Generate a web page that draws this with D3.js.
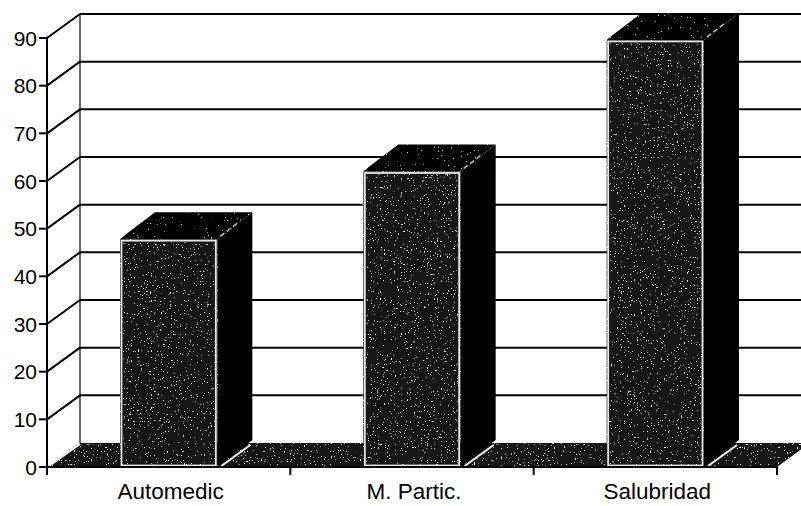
<!DOCTYPE html>
<html>
<head>
<meta charset="utf-8">
<script src="https://cdn.jsdelivr.net/npm/d3@7"></script>
<style>
  html, body { margin: 0; padding: 0; background: #fff; }
  svg { display: block; font-family: "Liberation Sans", Arial, sans-serif; }
</style>
</head>
<body>
<svg id="chart" width="801" height="506"></svg>
<script>
// values
const categories = ["Automedic", "M. Partic.", "Salubridad"];
const values = [47.8, 62, 89.6];
const yTicks = [0, 10, 20, 30, 40, 50, 60, 70, 80, 90];

const svg = d3.select("#chart");

// 3d offsets: walls / bars
const DX = 33, DY = -24;
const BDX = 35, BDY = -27;

const y = d3.scaleLinear().domain([0, 90]).range([467, 38]);
const x = d3.scaleBand().domain(categories).range([47, 777])
  .paddingInner(0.6).paddingOuter(0.3);
const step = x.step();

// speckle texture filter
const defs = svg.append("defs");
function speckle(id, seed, freq, k, b) {
  const f = defs.append("filter").attr("id", id)
    .attr("x", 0).attr("y", 0).attr("width", 1).attr("height", 1);
  f.append("feTurbulence").attr("type", "fractalNoise")
    .attr("baseFrequency", freq).attr("numOctaves", 2).attr("seed", seed).attr("result", "n");
  f.append("feColorMatrix").attr("in", "n").attr("type", "matrix")
    .attr("values", `0 0 0 0 1  0 0 0 0 1  0 0 0 0 1  ${k} 0 0 0 ${-b}`).attr("result", "dots");
  f.append("feComposite").attr("in", "dots").attr("in2", "SourceGraphic")
    .attr("operator", "in").attr("result", "d2");
  const m = f.append("feMerge");
  m.append("feMergeNode").attr("in", "SourceGraphic");
  m.append("feMergeNode").attr("in", "d2");
}
speckle("speck", 3, 0.7, 14, 9.7);
speckle("speckTop", 7, 0.7, 10, 7.4);

const line = d3.line();

// back wall gridlines
svg.append("g").selectAll("line")
  .data(yTicks.filter(d => d > 0))
  .join("line")
  .attr("x1", 47 + DX).attr("x2", 777 + DX + 10)
  .attr("y1", d => y(d) + DY).attr("y2", d => y(d) + DY)
  .attr("stroke", "#000").attr("stroke-width", 2);

// left wall diagonals
svg.append("g").selectAll("line")
  .data(yTicks.filter(d => d > 0))
  .join("line")
  .attr("x1", 47).attr("x2", 47 + DX)
  .attr("y1", d => y(d)).attr("y2", d => y(d) + DY)
  .attr("stroke", "#000").attr("stroke-width", 2);

// back wall corner line
svg.append("line")
  .attr("x1", 47 + DX).attr("x2", 47 + DX)
  .attr("y1", y(90) + DY).attr("y2", y(0) + DY)
  .attr("stroke", "#000").attr("stroke-width", 1.2);

// floor
svg.append("path")
  .attr("d", line([[47, y(0)], [777, y(0)], [777 + DX, y(0) + DY], [47 + DX, y(0) + DY]]) + "Z")
  .attr("fill", "#161616")
  .attr("filter", "url(#speck)");
svg.append("line")
  .attr("x1", 49).attr("x2", 47 + DX)
  .attr("y1", y(0) - 1).attr("y2", y(0) + DY + 1)
  .attr("stroke", "#f4f4f4").attr("stroke-width", 2);

// bars
const bars = svg.append("g").selectAll("g")
  .data(categories.map((c, i) => ({ cat: c, val: values[i] })))
  .join("g");

bars.append("path") // side
  .attr("d", d => {
    const x1 = x(d.cat) + x.bandwidth();
    return line([[x1, y(0)], [x1 + BDX, y(0) + BDY], [x1 + BDX, y(d.val) + BDY], [x1, y(d.val)]]) + "Z";
  })
  .attr("fill", "#000");

bars.append("path") // top
  .attr("d", d => {
    const x0 = x(d.cat), x1 = x0 + x.bandwidth(), t = y(d.val);
    return line([[x0, t], [x0 + 6, t - 5], [x0 + BDX, t + BDY], [x1 + BDX, t + BDY], [x1, t]]) + "Z";
  })
  .attr("fill", "#050505")
  .attr("filter", "url(#speckTop)");

bars.append("line") // top-right highlight edge
  .attr("x1", d => x(d.cat) + x.bandwidth() + 3)
  .attr("y1", d => y(d.val) - 3)
  .attr("x2", d => x(d.cat) + x.bandwidth() + 20)
  .attr("y2", d => y(d.val) - 16)
  .attr("stroke", "#bbb").attr("stroke-width", 1.5).attr("stroke-dasharray", "5 3");

bars.append("rect") // front
  .attr("x", d => x(d.cat))
  .attr("y", d => y(d.val))
  .attr("width", x.bandwidth())
  .attr("height", d => y(0) - y(d.val))
  .attr("fill", "#161616")
  .attr("filter", "url(#speck)");

bars.append("rect") // light rim on the front face
  .attr("x", d => x(d.cat) + 1.5)
  .attr("y", d => y(d.val) + 1.5)
  .attr("width", x.bandwidth() - 3)
  .attr("height", d => y(0) - y(d.val) - 3)
  .attr("fill", "none")
  .attr("stroke", "#e6e6e6").attr("stroke-width", 1.8);

bars.append("line") // floor highlight beside the bar
  .attr("x1", d => x(d.cat) + x.bandwidth() + 4).attr("y1", y(0) - 1)
  .attr("x2", d => x(d.cat) + x.bandwidth() + 4 + DX - 4).attr("y2", y(0) + DY + 2)
  .attr("stroke", "#f4f4f4").attr("stroke-width", 2);

// value axis
svg.append("line")
  .attr("x1", 47).attr("x2", 47)
  .attr("y1", y(90)).attr("y2", y(0) + 4)
  .attr("stroke", "#000").attr("stroke-width", 2);
svg.append("g").selectAll("line")
  .data(yTicks)
  .join("line")
  .attr("x1", 39).attr("x2", 47)
  .attr("y1", d => y(d)).attr("y2", d => y(d))
  .attr("stroke", "#000").attr("stroke-width", 2);
svg.append("g").selectAll("text")
  .data(yTicks)
  .join("text")
  .attr("x", 37).attr("y", d => y(d))
  .attr("dy", "0.36em")
  .attr("text-anchor", "end")
  .attr("font-size", 21)
  .attr("fill", "#000")
  .text(d => d);

// category axis
svg.append("line")
  .attr("x1", 46).attr("x2", 778)
  .attr("y1", y(0)).attr("y2", y(0))
  .attr("stroke", "#000").attr("stroke-width", 2);
svg.append("g").selectAll("line")
  .data(d3.range(categories.length + 1))
  .join("line")
  .attr("x1", i => 47 + i * step).attr("x2", i => 47 + i * step)
  .attr("y1", y(0)).attr("y2", y(0) + 8)
  .attr("stroke", "#000").attr("stroke-width", 2);
svg.append("g").selectAll("text")
  .data(categories)
  .join("text")
  .attr("x", d => x(d) + x.bandwidth() / 2 + 2)
  .attr("y", 499)
  .attr("text-anchor", "middle")
  .attr("font-size", 22.5)
  .attr("fill", "#000")
  .text(d => d);
</script>
</body>
</html>
